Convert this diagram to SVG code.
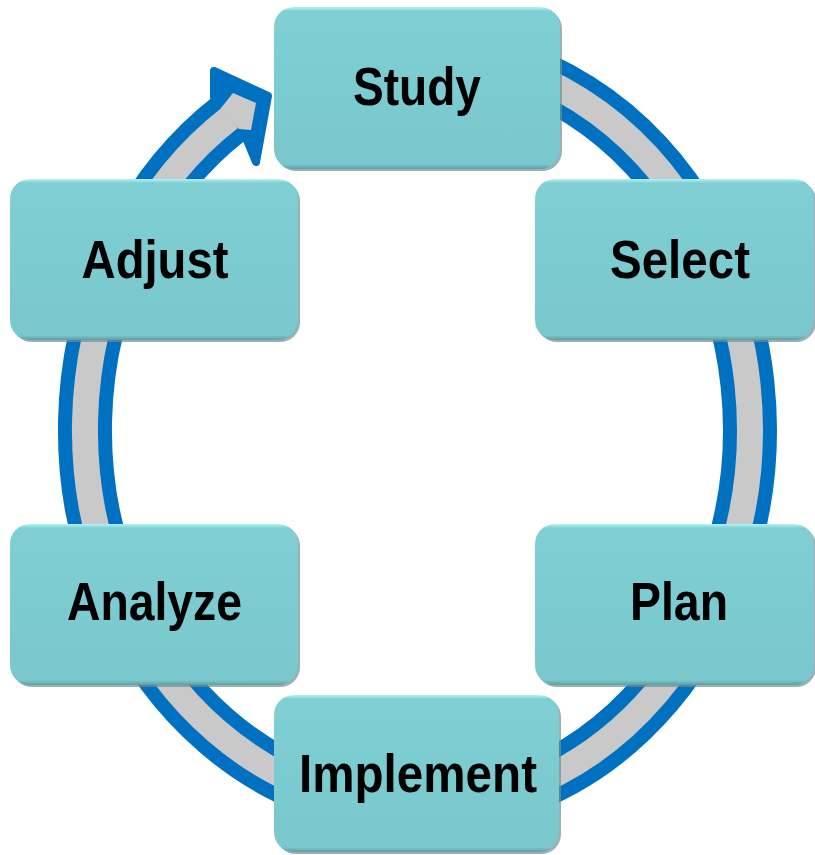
<svg xmlns="http://www.w3.org/2000/svg" width="815" height="855" viewBox="0 0 815 855">
<defs>
<linearGradient id="boxg" x1="0" y1="0" x2="0" y2="1">
<stop offset="0" stop-color="#b3f3f7"/>
<stop offset="0.025" stop-color="#80cfd5"/>
<stop offset="0.5" stop-color="#7ccbd1"/>
<stop offset="0.97" stop-color="#7ac8ce"/>
<stop offset="1" stop-color="#5f9ea3"/>
</linearGradient>
<style>
.shadow{fill:#6f8f92;opacity:0.7}
.box{fill:url(#boxg)}
.lbl{font-family:"Liberation Sans",Arial,sans-serif;font-weight:bold;font-size:53px;fill:#000;text-anchor:middle}
.ringb{fill:none;stroke:#0070c0;stroke-width:54}
.ringg{fill:none;stroke:#c9c9c9;stroke-width:26}
</style>
</defs>
<g id="connectors">
<path class="ringb" d="M417.5 52 A332.5 378 0 1 1 230 117.8"/>
<polygon points="214,97 214,71 268,96 256,162 246,138" fill="#0070c0" stroke="#0070c0" stroke-width="8" stroke-linejoin="round"/>
<path class="ringg" d="M417.5 52 A332.5 378 0 1 1 230 117.8"/>
<polygon points="221,108 233,93 256,103 251,130 239,129" fill="#c9c9c9"/>
</g>
<g id="study">
<rect class="shadow" x="276" y="9" width="286" height="162" rx="20"/>
<rect class="box" x="274" y="7" width="286" height="162" rx="20"/>
<text class="lbl" x="417" y="105" textLength="128" lengthAdjust="spacingAndGlyphs">Study</text>
</g>
<g id="select">
<rect class="shadow" x="537" y="181" width="279" height="161" rx="20"/>
<rect class="box" x="535" y="179" width="279" height="161" rx="20"/>
<text class="lbl" x="680" y="278" textLength="140" lengthAdjust="spacingAndGlyphs">Select</text>
</g>
<g id="adjust">
<rect class="shadow" x="12" y="181" width="288" height="161" rx="20"/>
<rect class="box" x="10" y="179" width="288" height="161" rx="20"/>
<text class="lbl" x="155" y="278" textLength="147" lengthAdjust="spacingAndGlyphs">Adjust</text>
</g>
<g id="analyze">
<rect class="shadow" x="12" y="526" width="288" height="161" rx="20"/>
<rect class="box" x="10" y="524" width="288" height="161" rx="20"/>
<text class="lbl" x="154.5" y="620" textLength="175" lengthAdjust="spacingAndGlyphs">Analyze</text>
</g>
<g id="plan">
<rect class="shadow" x="537" y="526" width="279" height="161" rx="20"/>
<rect class="box" x="535" y="524" width="279" height="161" rx="20"/>
<text class="lbl" x="679" y="620" textLength="98" lengthAdjust="spacingAndGlyphs">Plan</text>
</g>
<g id="implement">
<rect class="shadow" x="276" y="697" width="285" height="157" rx="20"/>
<rect class="box" x="274" y="695" width="285" height="157" rx="20"/>
<text class="lbl" x="418" y="792" textLength="238" lengthAdjust="spacingAndGlyphs">Implement</text>
</g>
</svg>
